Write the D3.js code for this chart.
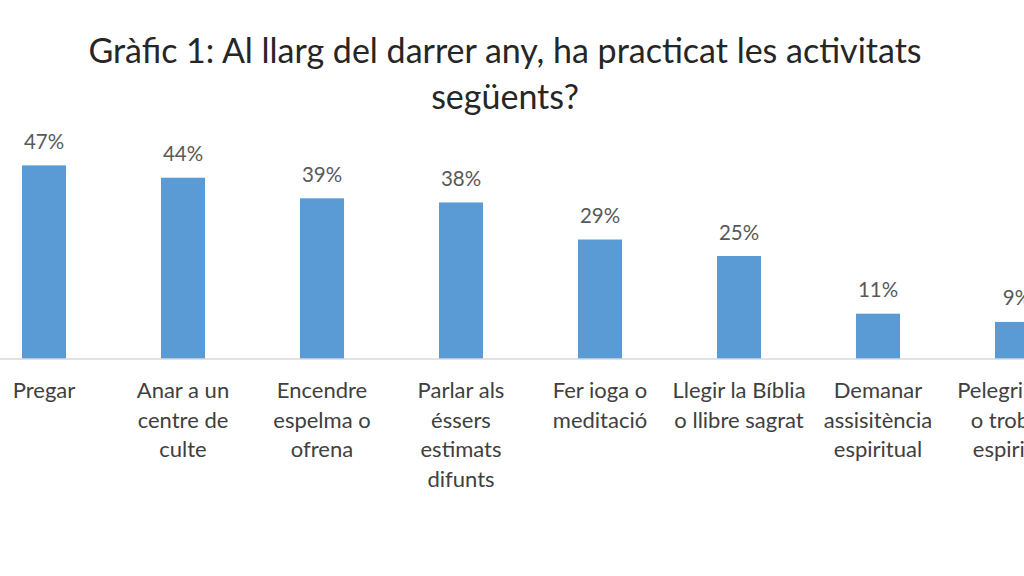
<!DOCTYPE html>
<html>
<head>
<meta charset="utf-8">
<script src="https://cdn.jsdelivr.net/npm/d3@7"></script>
<style>
  body { margin: 0; background: #fff; }
  svg { display: block; font-family: Lato, "Open Sans", sans-serif; }
</style>
</head>
<body>
<div id="chart"></div>
<script>
// data
var categories = [
  "Pregar",
  "Anar a un|centre de|culte",
  "Encendre|espelma o|ofrena",
  "Parlar als|éssers|estimats|difunts",
  "Fer ioga o|meditació",
  "Llegir la Bíblia|o llibre sagrat",
  "Demanar|assisitència|espiritual",
  "Pelegrinatge|o trobada|espiritual"
];
var values = [47, 44, 39, 38, 29, 25, 11, 9];
var titleLines = ["Gràfic 1: Al llarg del darrer any, ha practicat les activitats", "següents?"];

var width = 1024, height = 576;
var baseline = 359;

var svg = d3.select("#chart").append("svg")
  .attr("width", width)
  .attr("height", height);

// title
svg.append("text")
  .attr("x", 505)
  .attr("y", 63)
  .attr("text-anchor", "middle")
  .style("font-size", "34px")
  .style("fill", "#262626")
  .selectAll("tspan")
  .data(titleLines)
  .enter()
  .append("tspan")
  .attr("x", 505)
  .attr("dy", function(d, i){ return i == 0 ? 0 : 46; })
  .text(function(d){ return d; });

// scales (plot runs past the right edge, as in the cropped original)
var x = d3.scaleBand()
  .domain(categories)
  .range([-25.5, 1086.5])
  .paddingInner(0.683)
  .paddingOuter(0.3415);

var y = d3.scaleLinear().domain([0, 50]).range([baseline, baseline - 206]);

// bars
svg.selectAll("rect.bar")
  .data(values)
  .enter()
  .append("rect")
  .attr("class", "bar")
  .attr("x", function(d, i){ return x(categories[i]); })
  .attr("y", function(d){ return y(d); })
  .attr("width", x.bandwidth())
  .attr("height", function(d){ return baseline - y(d); })
  .style("fill", "#5b9bd5");

// x axis line
svg.append("line")
  .attr("x1", 0).attr("x2", width)
  .attr("y1", baseline).attr("y2", baseline)
  .attr("stroke", "#d9d9d9")
  .attr("stroke-width", 1.5);

// value labels
svg.selectAll("text.val")
  .data(values)
  .enter()
  .append("text")
  .attr("class", "val")
  .attr("x", function(d, i){ return x(categories[i]) + x.bandwidth() / 2; })
  .attr("y", function(d){ return y(d) - 16.5; })
  .attr("text-anchor", "middle")
  .style("font-size", "20.5px")
  .style("fill", "#595959")
  .text(function(d){ return d + "%"; });

// category labels
var lab = svg.selectAll("text.cat")
  .data(categories)
  .enter()
  .append("text")
  .attr("class", "cat")
  .attr("text-anchor", "middle")
  .attr("y", 398)
  .style("font-size", "22px")
  .style("fill", "#404040");

lab.selectAll("tspan")
  .data(function(d){ return d.split("|").map(function(s){ return {c: d, s: s}; }); })
  .enter()
  .append("tspan")
  .attr("x", function(d){ return x(d.c) + x.bandwidth() / 2; })
  .attr("dy", function(d, i){ return i == 0 ? 0 : 29.6; })
  .text(function(d){ return d.s; });
</script>
</body>
</html>
